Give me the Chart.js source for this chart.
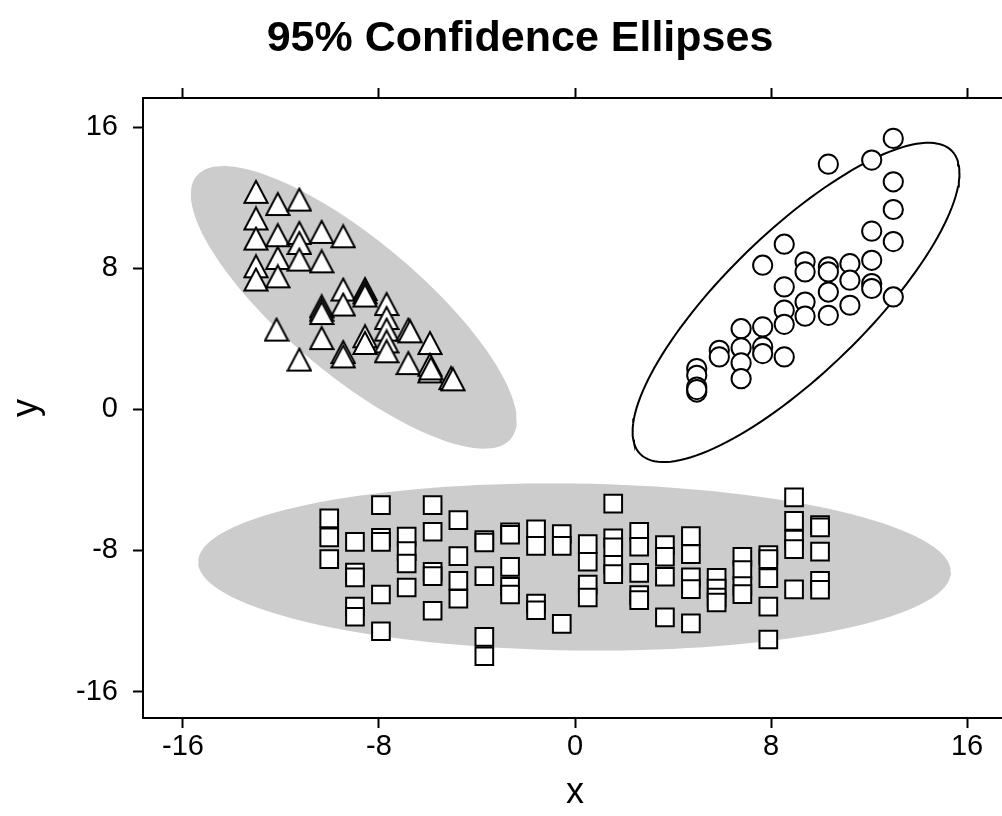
<!DOCTYPE html>
<html>
<head>
<meta charset="utf-8">
<title>95% Confidence Ellipses</title>
<script src="https://cdn.jsdelivr.net/npm/chart.js@4.4.0/dist/chart.umd.min.js"></script>
<style>
  html, body { margin: 0; padding: 0; background: #fff; overflow: hidden; }
  canvas { display: block; }
</style>
</head>
<body>
<canvas id="chart" width="1040" height="816"></canvas>
<script>
// tick labels
const xTicks = [-16, -8, 0, 8, 16];
const yTicks = [-16, -8, 0, 8, 16];

// group 1 (triangles)
const triX = [-13.02, -12.13, -11.25, -13.02, -13.02, -12.13, -11.25, -11.25, -10.34, -9.46,
              -12.13, -11.25, -10.34, -13.02, -13.02, -12.13, -9.46, -8.57, -8.57, -8.57,
              -10.34, -10.34, -10.34, -9.46, -7.69, -7.69, -7.69, -6.80, -6.73, -8.57,
              -8.57, -7.69, -7.69, -10.34, -5.92, -12.18, -9.46, -9.46, -11.25, -6.80,
              -5.92, -5.92, -5.88, -5.06, -4.98];
const triY = [12.33, 11.64, 11.89, 10.82, 9.68, 9.87, 10.00, 9.43, 10.06, 9.81,
              8.58, 8.49, 8.39, 8.11, 7.36, 7.54, 6.79, 6.82, 6.63, 6.45,
              5.84, 5.65, 5.46, 5.94, 5.97, 5.18, 4.52, 4.52, 4.42, 4.14,
              3.76, 3.85, 3.29, 4.04, 3.76, 4.52, 3.25, 3.00, 2.82, 2.62,
              2.53, 2.15, 2.32, 1.77, 1.70];

// group 2 (circles)
const circX = [12.99, 10.34, 12.11, 12.99, 12.99, 12.11, 12.99, 8.54, 7.66, 9.39,
               9.39, 10.34, 10.34, 11.22, 11.22, 12.11, 12.11, 12.11, 12.99, 8.54,
               10.34, 9.39, 11.22, 8.54, 8.54, 9.39, 10.34, 6.78, 7.66, 5.89,
               5.89, 6.78, 6.78, 6.78, 7.66, 7.66, 8.54, 4.97, 4.97, 4.97,
               4.97, 4.97];
const circY = [15.36, 13.90, 14.13, 12.90, 11.33, 10.10, 9.51, 9.36, 8.17, 8.36,
               7.79, 8.08, 7.79, 8.26, 7.32, 8.45, 7.13, 6.85, 6.37, 6.94,
               6.65, 6.08, 5.90, 5.62, 4.82, 5.28, 5.33, 4.57, 4.67, 3.35,
               2.97, 3.48, 2.63, 1.74, 3.54, 3.16, 2.97, 2.31, 1.93, 1.26,
               0.98, 1.12];

// group 3 (squares), one line per column
const sqX = [-10.03, -10.03, -10.03,
             -8.98, -8.98, -8.98, -8.98, -8.98,
             -7.92, -7.92, -7.92, -7.92, -7.92,
             -6.87, -6.87, -6.87, -6.87,
             -5.81, -5.81, -5.81, -5.81, -5.81,
             -4.76, -4.76, -4.76, -4.76,
             -3.70, -3.70, -3.70, -3.70, -3.70,
             -2.65, -2.65, -2.65, -2.65, -2.65,
             -1.59, -1.59, -1.59, -1.59,
             -0.54, -0.54, -0.54,
             0.52, 0.52, 0.52, 0.52,
             1.56, 1.56, 1.56, 1.56, 1.56,
             2.62, 2.62, 2.62, 2.62, 2.62,
             3.67, 3.67, 3.67, 3.67,
             4.73, 4.73, 4.73, 4.73, 4.73,
             5.78, 5.78, 5.78, 5.78,
             6.83, 6.83, 6.83, 6.83,
             7.89, 7.89, 7.89, 7.89, 7.89,
             8.94, 8.94, 8.94, 8.94, 8.94,
             10.0, 10.0, 10.0, 10.0, 10.0];
const sqY = [-6.18, -7.26, -8.49,
             -7.51, -9.25, -9.53, -11.19, -11.76,
             -5.43, -7.28, -7.51, -10.50, -12.58,
             -7.22, -8.04, -8.74, -10.10,
             -5.43, -6.94, -9.21, -9.46, -11.42,
             -6.28, -8.32, -9.72, -10.74,
             -7.41, -7.55, -9.46, -12.90, -14.00,
             -6.98, -7.11, -8.93, -10.06, -10.50,
             -6.81, -7.74, -11.01, -11.39,
             -7.07, -7.74, -12.16,
             -7.64, -8.64, -9.93, -10.67,
             -5.35, -7.32, -7.83, -8.81, -9.34,
             -6.94, -7.79, -9.27, -10.53, -10.82,
             -7.70, -8.36, -9.49, -11.80,
             -7.19, -8.21, -9.53, -10.19, -12.14,
             -9.55, -10.16, -10.67, -10.95,
             -8.36, -9.12, -10.02, -10.48,
             -8.27, -8.49, -9.57, -11.19, -13.05,
             -4.99, -6.32, -7.38, -7.93, -10.21,
             -6.56, -6.69, -8.07, -9.72, -10.23];

// 95% ellipses (triangles, circles, squares): centre, half extents, correlation
const ellCx = [-9.03, 9.02, -0.02];
const ellCy = [5.78, 6.06, -8.94];
const ellHalfW = [6.65, 6.67, 15.36];
const ellHalfH = [8.01, 9.05, 4.74];
const ellRho = [-0.80, 0.81, -0.06];

const pts = (xs, ys) => xs.map((x, i) => ({ x: x, y: ys[i] }));

function ellipse(i) {
    const out = [];
    const s = Math.sqrt(1 - ellRho[i] * ellRho[i]);
    for (let k = 0; k <= 144; k++) {
        const t = k / 144 * Math.PI * 2;
        out.push({
            x: ellCx[i] + ellHalfW[i] * Math.cos(t),
            y: ellCy[i] + ellHalfH[i] * (ellRho[i] * Math.cos(t) + s * Math.sin(t))
        });
    }
    return out;
}

// open triangle marker (a little taller than equilateral, like the original)
function triangleMarker() {
    const c = document.createElement('canvas');
    c.width = 26; c.height = 26;
    const g = c.getContext('2d');
    g.beginPath();
    g.moveTo(13, 2);
    g.lineTo(24.6, 24);
    g.lineTo(1.4, 24);
    g.closePath();
    g.fillStyle = '#fff';
    g.fill();
    g.lineWidth = 2;
    g.strokeStyle = '#000';
    g.stroke();
    return c;
}

Chart.defaults.font.family = '"Liberation Sans", Arial, Helvetica, sans-serif';
Chart.defaults.color = '#000';

const ellipseStyle = { showLine: true, pointRadius: 0, tension: 0, borderWidth: 0,
                       borderColor: 'rgba(0,0,0,0)', backgroundColor: '#cccccc', fill: 'shape' };
const markerStyle = { showLine: false, borderColor: '#000', backgroundColor: '#fff', borderWidth: 2 };

const xRange = { min: -17.63, max: 17.63 };
const yRange = { min: -17.5, max: 17.65 };

new Chart(document.getElementById('chart'), {
    type: 'scatter',
    data: {
        datasets: [
            Object.assign({ data: ellipse(0), order: 9 }, ellipseStyle),
            Object.assign({ data: ellipse(2), order: 8 }, ellipseStyle),
            { data: ellipse(1), order: 7, showLine: true, pointRadius: 0, tension: 0,
              borderColor: '#000', borderWidth: 2, fill: false },
            Object.assign({ data: pts(triX, triY), order: 3, pointStyle: triangleMarker(), pointRadius: 13 }, markerStyle),
            Object.assign({ data: pts(circX, circY), order: 2, pointStyle: 'circle', pointRadius: 9.6 }, markerStyle),
            Object.assign({ data: pts(sqX, sqY), order: 1, pointStyle: 'rect', pointRadius: 12.5 }, markerStyle)
        ]
    },
    options: {
        responsive: false,
        devicePixelRatio: 1,
        animation: false,
        events: [],
        layout: { padding: 0 },
        plugins: {
            legend: { display: false },
            tooltip: { enabled: false },
            title: {
                display: true,
                text: '95% Confidence Ellipses',
                font: { size: 43, weight: 'bold' },
                color: '#000',
                padding: { top: 13, bottom: 7.4 }
            }
        },
        scales: {
            x: {
                type: 'linear', position: 'bottom', min: xRange.min, max: xRange.max,
                afterBuildTicks: s => { s.ticks = xTicks.map(v => ({ value: v })); },
                afterFit: s => { s.height = 98; },
                ticks: { font: { size: 29 }, padding: 2, maxRotation: 0 },
                grid: { drawOnChartArea: false, drawTicks: true, tickLength: 10, tickWidth: 2, tickColor: '#000', color: '#000' },
                border: { display: true, color: '#000', width: 2 },
                title: { display: true, text: 'x', font: { size: 36 }, padding: { top: 0, bottom: 1.5 } }
            },
            x2: {
                type: 'linear', position: 'top', min: xRange.min, max: xRange.max,
                afterBuildTicks: s => { s.ticks = xTicks.map(v => ({ value: v })); },
                afterFit: s => { s.height = 26; },
                ticks: { display: false },
                grid: { drawOnChartArea: false, drawTicks: true, tickLength: 10, tickWidth: 2, tickColor: '#000', color: '#000' },
                border: { display: true, color: '#000', width: 2 }
            },
            y: {
                type: 'linear', position: 'left', min: yRange.min, max: yRange.max,
                afterBuildTicks: s => { s.ticks = yTicks.map(v => ({ value: v })); },
                afterFit: s => { s.width = 143; },
                ticks: { font: { size: 29 }, padding: 15 },
                grid: { drawOnChartArea: false, drawTicks: true, tickLength: 10, tickWidth: 2, tickColor: '#000', color: '#000' },
                border: { display: true, color: '#000', width: 2 },
                title: { display: true, text: 'y', font: { size: 36 }, padding: { top: 5.4, bottom: 0 } }
            },
            y2: {
                type: 'linear', position: 'right', min: yRange.min, max: yRange.max,
                afterFit: s => { s.width = 33; },
                ticks: { display: false },
                grid: { display: false, drawTicks: false },
                border: { display: false }
            }
        }
    }
});
</script>
</body>
</html>
